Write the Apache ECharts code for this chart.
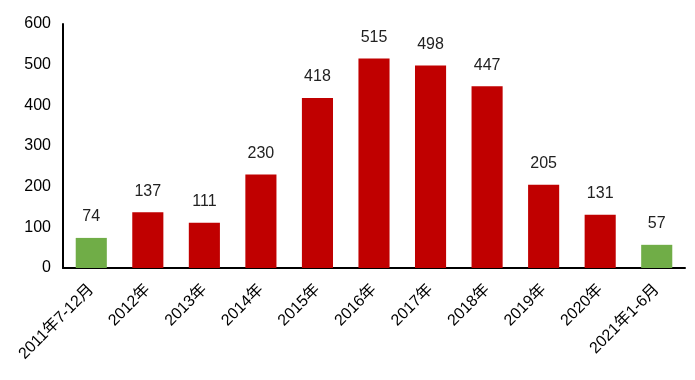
<!DOCTYPE html>
<html><head><meta charset="utf-8">
<script src="https://cdn.jsdelivr.net/npm/echarts@6/dist/echarts.min.js"></script>
<style>html,body{margin:0;padding:0;background:#fff}#c{width:695px;height:380px}</style>
</head><body><div id="c"></div>
<script>
const categories = ['2011年7-12月','2012年','2013年','2014年','2015年','2016年','2017年','2018年','2019年','2020年','2021年1-6月'];
const values = [74,137,111,230,418,515,498,447,205,131,57];
const partial = [true,false,false,false,false,false,false,false,false,false,true];
const yTicks = {min:0,max:600,interval:100};
const RED = '#C00000', GREEN = '#70AD47';
const chart = echarts.init(document.getElementById('c'));
chart.setOption({
  animation:false,
  grid:{left:63,right:10,top:24,bottom:112},
  xAxis:{type:'category',data:categories,
    axisLine:{lineStyle:{color:'#000',width:2}},axisTick:{show:false},
    axisLabel:{rotate:45,interval:0,color:'#000',fontSize:16,fontFamily:'Liberation Sans, Noto Sans CJK SC',margin:19}},
  yAxis:{type:'value',min:yTicks.min,max:yTicks.max,interval:yTicks.interval,
    axisLine:{show:true,lineStyle:{color:'#000',width:2}},axisTick:{show:false},splitLine:{show:false},
    axisLabel:{color:'#000',fontSize:16,fontFamily:'Liberation Sans',margin:12}},
  series:[{type:'bar',barWidth:'55%',
    data:values.map((v,i)=>({value:v,itemStyle:{color:partial[i]?GREEN:RED}})),
    label:{show:true,position:'top',distance:13,color:'#222',fontSize:16,fontFamily:'Liberation Sans'}}]
});
</script></body></html>
